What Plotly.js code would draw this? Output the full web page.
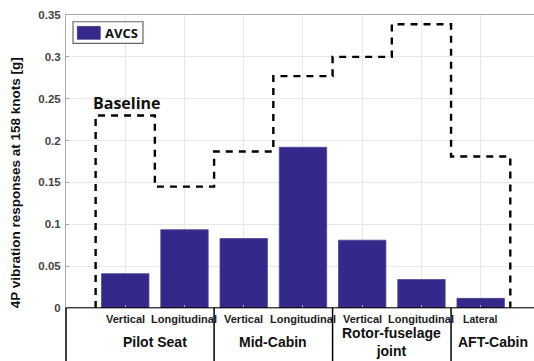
<!DOCTYPE html>
<html>
<head>
<meta charset="utf-8">
<script src="https://cdn.plot.ly/plotly-3.0.1.min.js"></script>
<style>
  html, body { margin: 0; padding: 0; background: #fff; overflow: hidden; }
  #chart { width: 534px; height: 361px; }
</style>
</head>
<body>
<div id="chart"></div>
<script>
// Measurement points along the fuselage (one bar each)
const measureLabels = ['Vertical', 'Longitudinal', 'Vertical', 'Longitudinal', 'Vertical', 'Longitudinal', 'Lateral'];
// Location groups and how many measurement points each holds
const groupLabels = ['Pilot Seat', 'Mid-Cabin', 'Rotor-fuselage<br>joint', 'AFT-Cabin'];
const groupSizes = [2, 2, 2, 1];
// 4P vibration response at 158 knots [g]
const avcsValues = [0.041, 0.0935, 0.083, 0.192, 0.081, 0.034, 0.0115];
const baselineValues = [0.230, 0.145, 0.187, 0.277, 0.300, 0.339, 0.181];
const avcsName = 'AVCS';
const baselineName = 'Baseline';
const yTicks = [0, 0.05, 0.1, 0.15, 0.2, 0.25, 0.3, 0.35];

const xPos = measureLabels.map((_, i) => i + 1);
const xRange = [0, 7.9];
const yRange = [0, 0.35];

// Baseline drawn as a stair outline around each measurement point
const stairX = [0.5, 0.5];
const stairY = [0, baselineValues[0]];
for (let i = 1; i < baselineValues.length; i++) {
  stairX.push(i + 0.5);
  stairY.push(baselineValues[i]);
}
stairX.push(baselineValues.length + 0.5, baselineValues.length + 0.5);
stairY.push(baselineValues[baselineValues.length - 1], 0);

const barColor = '#33298a';

const traces = [
  {
    type: 'bar',
    x: xPos,
    y: avcsValues,
    width: 0.8,
    name: avcsName,
    marker: { color: barColor, line: { color: '#4b4590', width: 0.8 } },
    showlegend: false,
    hoverinfo: 'y'
  },
  {
    type: 'scatter',
    mode: 'lines',
    x: stairX,
    y: stairY,
    name: baselineName,
    line: { shape: 'hv', color: '#000', width: 2.4, dash: '7px,6px' },
    showlegend: false,
    cliponaxis: false
  }
];

const font = 'Liberation Sans, Arial, sans-serif';
const bold = s => '<b>' + s.split('<br>').join('</b><br><b>') + '</b>';
const shapes = [];
const annotations = [];

// x-axis zero line spanning the full plot width
shapes.push({ type: 'line', xref: 'paper', yref: 'y', x0: 0, x1: 1, y0: 0, y1: 0,
  line: { color: '#000', width: 1.5 } });

// Category table below the axis
const tableBottom = -0.185;
shapes.push({ type: 'line', xref: 'paper', yref: 'paper', x0: 0, x1: 0, y0: 0, y1: tableBottom,
  line: { color: '#000', width: 1.5 } });

measureLabels.forEach((lab, i) => {
  annotations.push({ xref: 'x', yref: 'paper', x: xPos[i], y: -0.038, text: bold(lab),
    showarrow: false, xanchor: 'center', yanchor: 'middle',
    font: { family: font, size: lab === 'Lateral' ? 10.5 : 11, color: '#222' } });
});

let start = 0;
groupSizes.forEach((n, g) => {
  const left = start + 0.5;
  const isLast = g === groupSizes.length - 1;
  const rightEdge = isLast ? xRange[1] : start + n + 0.5;
  if (!isLast) {
    shapes.push({ type: 'line', xref: 'x', yref: 'paper', x0: start + n + 0.5, x1: start + n + 0.5,
      y0: 0, y1: tableBottom, line: { color: '#000', width: 1.5 } });
  }
  annotations.push({ xref: 'x', yref: 'paper', x: (left + rightEdge) / 2, y: -0.116,
    text: bold(groupLabels[g]), showarrow: false, xanchor: 'center', yanchor: 'middle',
    font: { family: font, size: 14, color: '#111' } });
  start += n;
});

// Series legend box
shapes.push({ type: 'rect', xref: 'paper', yref: 'paper', x0: 0.0150, x1: 0.1645, y0: 0.903, y1: 0.977,
  line: { color: '#666', width: 1.2 }, fillcolor: '#fff' });
shapes.push({ type: 'rect', xref: 'paper', yref: 'paper', x0: 0.0242, x1: 0.0733, y0: 0.917, y1: 0.961,
  line: { color: '#2a2270', width: 0.6 }, fillcolor: barColor });
annotations.push({ xref: 'paper', yref: 'paper', x: 0.0795, y: 0.940, text: bold(avcsName), showarrow: false,
  xanchor: 'left', yanchor: 'middle', font: { family: 'Open Sans, sans-serif', size: 13, color: '#111' } });

// Baseline label above its outline
annotations.push({ xref: 'paper', yref: 'y', x: 0.054, y: 0.245, text: bold(baselineName), showarrow: false,
  xanchor: 'left', yanchor: 'middle', font: { family: 'Open Sans, sans-serif', size: 16, color: '#111' } });

// Y-axis title
annotations.push({ xref: 'paper', yref: 'paper', x: -0.108, y: 0.427,
  text: bold('4P vibration responses at 158 knots [g]'), textangle: -90, showarrow: false,
  xanchor: 'center', yanchor: 'middle', font: { family: font, size: 13.5, color: '#111' } });

const layout = {
  width: 534,
  height: 361,
  margin: { l: 66, r: 0, t: 15, b: 53 },
  paper_bgcolor: '#fff',
  plot_bgcolor: '#fff',
  font: { family: font },
  bargap: 0.2,
  xaxis: {
    range: xRange,
    tickvals: xPos,
    showticklabels: false,
    showgrid: true,
    gridcolor: '#e8e8e8',
    gridwidth: 1,
    zeroline: false,
    showline: true,
    mirror: true,
    linecolor: '#aaa',
    linewidth: 1,
    ticks: 'inside',
    ticklen: 3,
    tickcolor: '#aaa',
    fixedrange: true
  },
  yaxis: {
    range: yRange,
    tickvals: yTicks,
    ticktext: yTicks.map(v => '<b>' + String(v) + '</b>'),
    showgrid: true,
    gridcolor: '#e8e8e8',
    gridwidth: 1,
    zeroline: false,
    showline: true,
    linecolor: '#aaa',
    linewidth: 1,
    ticks: 'inside',
    ticklen: 3,
    tickcolor: '#aaa',
    tickfont: { family: font, size: 11.5, color: '#444' },
    ticklabelstandoff: 2,
    fixedrange: true
  },
  shapes: shapes,
  annotations: annotations
};

Plotly.newPlot('chart', traces, layout, { displayModeBar: false, staticPlot: true });
</script>
</body>
</html>
